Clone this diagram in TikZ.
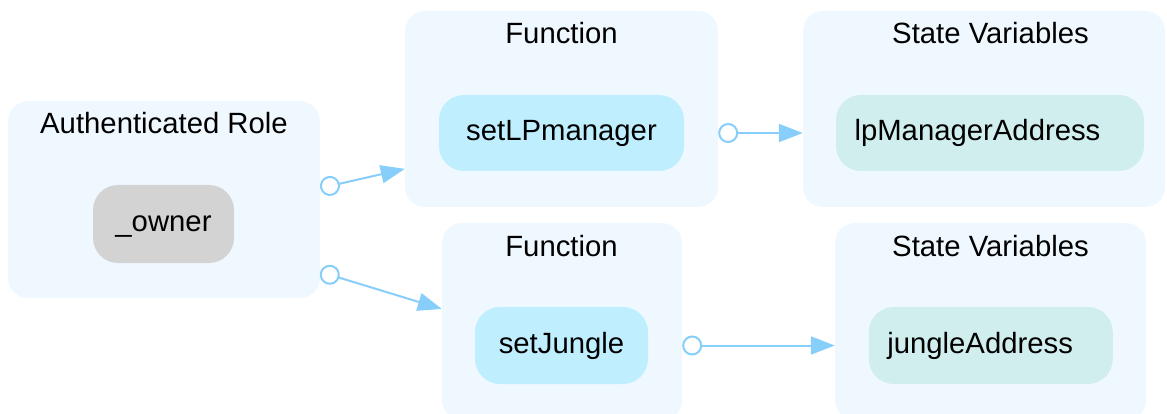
\documentclass[tikz,border=0pt]{standalone}
\usepackage{fontspec}
\setmainfont{Liberation Sans}
\usetikzlibrary{arrows.meta}
\definecolor{clusterbg}{HTML}{F0F8FF}
\definecolor{rolefill}{HTML}{D3D3D3}
\definecolor{fnfill}{HTML}{BFEFFF}
\definecolor{varfill}{HTML}{D1EEEE}
\definecolor{edgecol}{HTML}{87CEFA}
\newcommand{\labelfont}{\fontsize{29.3}{35}\selectfont}
\begin{document}
\begin{tikzpicture}[x=1pt,y=-1pt,
  cluster/.style={fill=clusterbg, rounded corners=20pt, inner sep=0pt},
  title/.style={anchor=base, inner sep=0pt, font=\labelfont},
  item/.style={rounded corners=25pt, inner sep=0pt, font=\labelfont,
    text height=20.5pt, text depth=4.5pt},
  rolebox/.style={item, fill=rolefill},
  fnbox/.style={item, fill=fnfill},
  varbox/.style={item, fill=varfill, align=left, inner xsep=18.5pt},
  link/.style={draw=edgecol, line width=2pt,
    {Circle[open,length=20pt,width=20pt]}-{Triangle[length=24pt,width=18pt]}}]
\clip (0,0) rectangle (1167,414);

% clusters
\node[cluster, minimum width=312pt, minimum height=197pt] (role) at (164,199.5) {};
\node[cluster, minimum width=313pt, minimum height=196pt] (fn1) at (561.5,109) {};
\node[cluster, minimum width=362pt, minimum height=196pt] (sv1) at (984,109) {};
\node[cluster, minimum width=240pt, minimum height=197pt] (fn2) at (562,321.5) {};
\node[cluster, minimum width=311pt, minimum height=197pt] (sv2) at (990.5,321.5) {};

% cluster titles
\node[title] (roleT) at (164,134) {Authenticated Role};
\node[title] (fn1T) at (561.5,44) {Function};
\node[title] (sv1T) at (990.5,44) {State Variables};
\node[title] (fn2T) at (561.5,256) {Function};
\node[title] (sv2T) at (990.5,256) {State Variables};

% nodes
\node[rolebox, minimum width=141pt, minimum height=78pt] (owner) at (163.5,224) {\_owner};
\node[fnbox, minimum width=245pt, minimum height=76pt] (setlp) at (561.5,133) {setLPmanager};
\node[varbox, minimum height=76pt, text width=271pt] (lpaddr) at (990,133) {lpManagerAddress};
\node[fnbox, minimum width=173pt, minimum height=77pt] (setjungle) at (561.5,345.5) {setJungle};
\node[varbox, minimum height=77pt, text width=207pt] (jaddr) at (990.8,345.5) {jungleAddress};

% connector end points on the cluster borders
\coordinate (e1s) at (intersection of owner.center--setlp.center and role.north east--role.south east);
\coordinate (e1t) at (intersection of owner.center--setlp.center and fn1.north west--fn1.south west);
\coordinate (e2s) at (intersection of owner.center--setjungle.center and role.north east--role.south east);
\coordinate (e2t) at (intersection of owner.center--setjungle.center and fn2.north west--fn2.south west);

% connectors
\draw[link] (e1s) -- (e1t);
\draw[link] (e2s) -- (e2t);
\draw[link] (setlp.center -| fn1.east) -- (lpaddr.center -| sv1.west);
\draw[link] (setjungle.center -| fn2.east) -- (jaddr.center -| sv2.west);
\end{tikzpicture}
\end{document}
